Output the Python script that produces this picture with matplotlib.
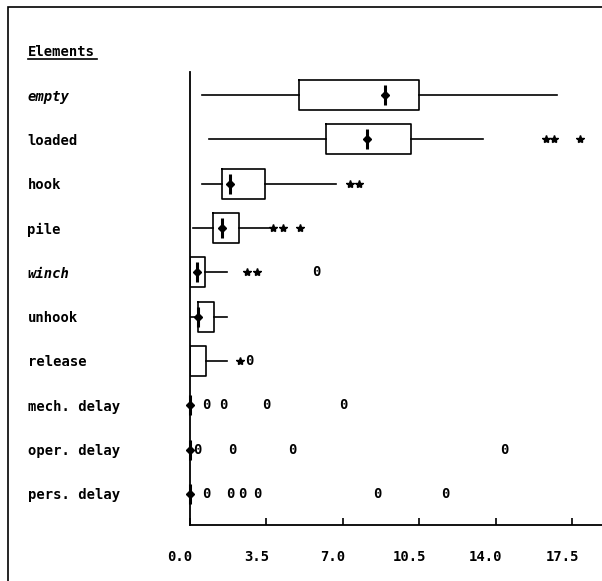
import matplotlib
matplotlib.use('Agg')
import matplotlib.pyplot as plt
from matplotlib.lines import Line2D
from matplotlib.patches import Rectangle
from matplotlib.transforms import ScaledTranslation
import numpy as np


# Elements (top to bottom)
elements = ['empty', 'loaded', 'hook', 'pile', 'winch', 'unhook', 'release',
            'mech. delay', 'oper. delay', 'pers. delay']
italic_labels = ['empty', 'winch']

# box statistics for the first seven elements
whis_lo = [0.55, 0.87, 0.55, 0.14, 0.0, 0.0, 0.0]
q1 = [5.0, 6.2, 1.46, 1.05, 0.0, 0.35, 0.0]
q3 = [10.5, 10.1, 3.43, 2.25, 0.7, 1.1, 0.75]
whis_hi = [16.8, 13.4, 6.7, 3.6, 1.7, 1.7, 1.7]

# medians for all ten elements (nan = not drawn)
medians = [8.9, 8.1, 1.85, 1.46, 0.3, 0.35, np.nan, 0.0, 0.0, 0.0]

# outliers drawn as '*'
star_outliers = {
    'loaded': [16.3, 16.65, 17.85],
    'hook': [7.3, 7.75],
    'pile': [3.8, 4.25, 5.03],
    'winch': [2.6, 3.07],
    'release': [2.3],
}
# outliers drawn as '0'
zero_outliers = {
    'winch': [5.8],
    'release': [2.7],
    'mech. delay': [0.73, 1.51, 3.48, 7.0],
    'oper. delay': [0.32, 1.92, 4.67, 14.4],
    'pers. delay': [0.73, 1.83, 2.38, 3.07, 8.55, 11.7],
}

xticks = [0.0, 3.5, 7.0, 10.5, 14.0, 17.5]

font = 'DejaVu Sans Mono'

fig = plt.figure(figsize=(6.02, 5.81), dpi=100)
ax = fig.add_axes([190 / 602, 56 / 581, 412 / 602, 453 / 581])

rows = list(range(len(elements)))

# boxes
stats = []
for i in range(len(whis_lo)):
    stats.append({'whislo': whis_lo[i], 'q1': q1[i],
                  'med': q1[i] if np.isnan(medians[i]) else medians[i],
                  'q3': q3[i], 'whishi': whis_hi[i], 'fliers': []})
ax.bxp(stats, positions=rows[:len(stats)], orientation='horizontal', widths=0.68,
       showcaps=False, showfliers=False,
       boxprops=dict(color='black', linewidth=1.2),
       whiskerprops=dict(color='black', linewidth=1.2),
       medianprops=dict(linewidth=0))

# median markers
for y, m in zip(rows, medians):
    if np.isnan(m):
        continue
    ax.plot(m, y, marker='|', markersize=15, markeredgewidth=2.2,
            color='black', clip_on=False, zorder=4)
    ax.plot(m, y, marker='D', markersize=4.5, color='black',
            clip_on=False, zorder=4)

# outliers
for name, vals in star_outliers.items():
    y = elements.index(name)
    ax.plot(vals, [y] * len(vals), linestyle='none', marker='*',
            markersize=6, color='black')
for name, vals in zero_outliers.items():
    y = elements.index(name)
    for v in vals:
        ax.text(v, y, '0', ha='center', va='center', fontsize=10,
                family=font, fontweight='bold')

ax.set_xlim(0, 18.85)
ax.set_ylim(9.7, -0.52)

ax.spines['top'].set_visible(False)
ax.spines['right'].set_visible(False)
ax.spines['left'].set_linewidth(1.3)
ax.spines['bottom'].set_linewidth(1.3)

ax.set_xticks(xticks)
ax.set_xticklabels([f'{t:.1f}' for t in xticks], family=font,
                   fontweight='bold', fontsize=10)
ax.tick_params(axis='x', direction='in', length=5, width=1.2, pad=18)
shift = ScaledTranslation(-10 / 100, 0, fig.dpi_scale_trans)
for lab in ax.get_xticklabels():
    lab.set_transform(lab.get_transform() + shift)

ax.set_yticks(rows)
ax.set_yticklabels(elements, family=font, fontweight='bold', fontsize=10)
ax.tick_params(axis='y', length=0, pad=117)
for lab in ax.get_yticklabels():
    lab.set_horizontalalignment('left')
    if lab.get_text() in italic_labels:
        lab.set_style('italic')

# title with underline
fig.text(28 / 602, 1 - 52 / 581, 'Elements', family=font, fontweight='bold',
         fontsize=10, ha='left', va='center')
fig.add_artist(Line2D([28 / 602, 97 / 602], [1 - 59 / 581, 1 - 59 / 581],
                      color='black', linewidth=1.2))

# outer frame
fig.add_artist(Rectangle((8 / 602, -0.1), 1.2, 1 - 7 / 581 + 0.1, fill=False,
                         edgecolor='black', linewidth=1.2,
                         transform=fig.transFigure))

fig.savefig('out.png', dpi=100)
